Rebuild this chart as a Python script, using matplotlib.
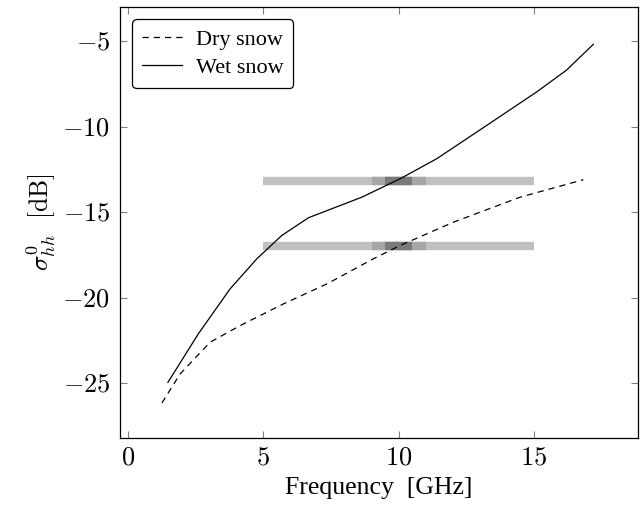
import matplotlib
matplotlib.use("Agg")
import matplotlib.pyplot as plt
from matplotlib.ticker import FuncFormatter

plt.rcParams['font.family'] = ['Liberation Serif', 'DejaVu Serif']
plt.rcParams['mathtext.fontset'] = 'cm'

# wet snow curve
wetFreq = [1.47, 2.6, 3.77, 4.76, 5.68, 6.67, 8.64, 10.06, 11.41, 13.26, 15.1, 16.2, 17.2]
wetSigma = [-24.95, -22.1, -19.48, -17.72, -16.36, -15.32, -14.12, -13.04, -11.87, -9.92, -7.97, -6.7, -5.18]

# dry snow curve
dryFreq = [1.25, 1.92, 3.03, 4.14, 5.74, 7.35, 9.07, 10.06, 12.03, 14.49, 16.83]
drySigma = [-26.15, -24.46, -22.6, -21.63, -20.36, -19.19, -17.72, -16.94, -15.58, -14.12, -13.1]

# reference bands: levels and frequency spans (outer, middle, inner)
bandLevels = [-13.2, -17.0]
bandSpans = [(5, 15), (9, 11), (9.5, 10.5)]
bandColors = ['#c0c0c0', '#a6a6a6', '#7a7a7a']

fig = plt.figure(figsize=(6.44, 5.08), dpi=100)
ax = fig.add_axes([120 / 644, 1 - 438 / 508, 518 / 644, 431 / 508])

for level in bandLevels:
    for (lo, hi), c in zip(bandSpans, bandColors):
        ax.plot([lo, hi], [level, level], color=c, lw=6, solid_capstyle='butt', zorder=1)

ax.plot(dryFreq, drySigma, color='black', lw=0.9, ls=(0, (5, 4)), label='Dry snow', zorder=3)
ax.plot(wetFreq, wetSigma, color='black', lw=0.9, label='Wet snow', zorder=3)

ax.set_xlim(-0.3, 18.85)
ax.set_ylim(-28.2, -3.0)
ax.set_xticks([0, 5, 10, 15])
ax.set_yticks([-25, -20, -15, -10, -5])
fmt = FuncFormatter(lambda v, p: r"$%g$" % v)
ax.xaxis.set_major_formatter(fmt)
ax.yaxis.set_major_formatter(fmt)
ax.tick_params(direction='in', length=5, color='#808080', labelsize=19, top=True, right=True, pad=7)
for s in ax.spines.values():
    s.set_linewidth(0.9)

ax.set_xlabel('Frequency  [GHz]', fontsize=18.5, labelpad=5)
ax.set_ylabel(r"$\sigma^0_{hh}\ \ \mathrm{[dB]}$", fontsize=18.5, labelpad=3)

leg = ax.legend(loc='upper left', fontsize=16, frameon=True, fancybox=True,
                edgecolor='black', framealpha=1, handlelength=1.8, borderaxespad=0.55,
                labelspacing=0.35, borderpad=0.45, handletextpad=0.6)
leg.get_frame().set_linewidth(0.9)

fig.savefig('out.png', dpi=100)
